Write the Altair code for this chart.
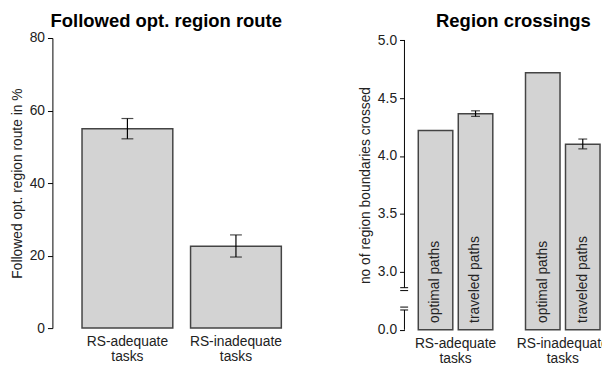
import altair as alt
import pandas as pd

# ---- data: left panel ----
tasks = ["RS-adequate tasks", "RS-inadequate tasks"]
route_pct = [55.0, 22.6]
route_lo = [52.2, 19.6]
route_hi = [57.8, 25.7]

# ---- data: right panel ----
groups = ["RS-adequate tasks", "RS-adequate tasks", "RS-inadequate tasks", "RS-inadequate tasks"]
path_types = ["optimal paths", "traveled paths", "optimal paths", "traveled paths"]
crossings = [4.22, 4.365, 4.72, 4.10]
err_groups = ["RS-adequate tasks", "RS-inadequate tasks"]
err_types = ["traveled paths", "traveled paths"]
cross_lo = [4.342, 4.061]
cross_hi = [4.390, 4.146]

left_ticks = [0, 20, 40, 60, 80]
right_ticks = [0.0, 3.0, 3.5, 4.0, 4.5, 5.0]
axis_seg_top = [5.0, 1.02]
axis_seg_bot = [2.17, 0.0]
break_marks = [2.17, 2.02, 1.17, 1.02]

FONT = "Liberation Sans"
FILL = "#d3d3d3"
EDGE = "#444444"

left_df = pd.DataFrame({"task": tasks, "pct": route_pct, "lo": route_lo, "hi": route_hi})
right_df = pd.DataFrame({"task": groups, "type": path_types, "val": crossings})
err_df = pd.DataFrame({"task": err_groups, "type": err_types, "lo": cross_lo, "hi": cross_hi})
seg_df = pd.DataFrame({"top": axis_seg_top, "bot": axis_seg_bot})
brk_df = pd.DataFrame({"b": break_marks})

xaxis = alt.Axis(title=None, domain=False, ticks=False, labelAngle=0,
                 labelExpr="split(datum.label, ' ')", labelLineHeight=15,
                 labelPadding=7, labelFontSize=14)

# ---- left panel ----
lx = alt.X("task:N", sort=tasks, axis=xaxis,
           scale=alt.Scale(paddingInner=0.1636, paddingOuter=0.1727, align=0.79))
ly = alt.Y("pct:Q", scale=alt.Scale(domain=[0, 80], nice=False),
           axis=alt.Axis(values=left_ticks, title="Followed opt. region route in %",
                         grid=False, tickSize=5, labelPadding=3, titlePadding=5))

left_bars = alt.Chart(left_df).mark_bar(fill=FILL, stroke=EDGE, strokeWidth=1.5).encode(x=lx, y=ly)
left_err = alt.Chart(left_df).mark_rule(color="black", strokeWidth=1.2).encode(
    x=alt.X("task:N", sort=tasks), y="lo:Q", y2="hi:Q")
left_cap_hi = alt.Chart(left_df).mark_tick(color="black", thickness=1.2, size=12).encode(
    x=alt.X("task:N", sort=tasks), y="hi:Q")
left_cap_lo = alt.Chart(left_df).mark_tick(color="black", thickness=1.2, size=12).encode(
    x=alt.X("task:N", sort=tasks), y="lo:Q")

left = alt.layer(left_bars, left_err, left_cap_hi, left_cap_lo).properties(
    width=240, height=294,
    title=alt.TitleParams("Followed opt. region route", fontSize=18.7, font=FONT,
                          fontWeight="bold", anchor="middle", dx=-4.6, color="#000",
                          baseline="top", offset=0.5))

# ---- right panel ----
rx = alt.X("task:N", sort=err_groups, axis=xaxis,
           scale=alt.Scale(paddingInner=0.305, paddingOuter=0.0828, align=0.778))
rxo = alt.XOffset("type:N", sort=["optimal paths", "traveled paths"],
                  scale=alt.Scale(paddingInner=0.137, paddingOuter=0))
ry_scale = alt.Scale(domain=[0, 3, 5], range=[295.7, 236.7, 2.3], nice=False, zero=False)
ry = alt.Y("val:Q", scale=ry_scale,
           axis=alt.Axis(values=right_ticks, format=".1f", domain=False,
                         title="no of region boundaries crossed",
                         grid=False, tickSize=5, labelPadding=3, titlePadding=5))

r_bars = alt.Chart(right_df).mark_bar(fill=FILL, stroke=EDGE, strokeWidth=1.5).encode(
    x=rx, xOffset=rxo, y=ry)
r_text = alt.Chart(right_df).mark_text(angle=270, align="left", baseline="middle",
                                       dx=7, fontSize=14, font=FONT, color="#222").encode(
    x=alt.X("task:N", sort=err_groups), xOffset=alt.XOffset("type:N", sort=["optimal paths", "traveled paths"]),
    y=alt.datum(0), text="type:N")
r_err = alt.Chart(err_df).mark_rule(color="black", strokeWidth=1.2).encode(
    x=alt.X("task:N", sort=err_groups), xOffset=alt.XOffset("type:N"), y="lo:Q", y2="hi:Q")
r_cap_hi = alt.Chart(err_df).mark_tick(color="black", thickness=1.2, size=9).encode(
    x=alt.X("task:N", sort=err_groups), xOffset=alt.XOffset("type:N"), y="hi:Q")
r_cap_lo = alt.Chart(err_df).mark_tick(color="black", thickness=1.2, size=9).encode(
    x=alt.X("task:N", sort=err_groups), xOffset=alt.XOffset("type:N"), y="lo:Q")
r_axis = alt.Chart(seg_df).mark_rule(color="black", strokeWidth=1).encode(
    x=alt.value(0), y="top:Q", y2="bot:Q")
r_brk = alt.Chart(brk_df).mark_rule(color="black", strokeWidth=1).encode(
    x=alt.value(-4.3), x2=alt.value(3.7), y="b:Q")

right = alt.layer(r_bars, r_text, r_err, r_cap_hi, r_cap_lo, r_axis, r_brk).properties(
    width=202.2, height=295.7,
    title=alt.TitleParams("Region crossings", fontSize=18.7, font=FONT,
                          fontWeight="bold", anchor="middle", dx=9.3, color="#000",
                          baseline="top", offset=2.8))

chart = alt.hconcat(left, right, spacing=69.8).properties(
    autosize=alt.AutoSizeParams(type="none"),
    padding={"left": 45, "top": 28, "right": 557, "bottom": 331}
).configure_view(stroke=None).configure_axis(
    labelFont=FONT, titleFont=FONT, labelFontSize=14, titleFontSize=14,
    titleFontWeight="normal", labelColor="#222", titleColor="#222",
    domainColor="black", tickColor="black", domainWidth=1, tickWidth=1
)

chart.save("out.html", embed_options={"renderer": "svg", "actions": False})
